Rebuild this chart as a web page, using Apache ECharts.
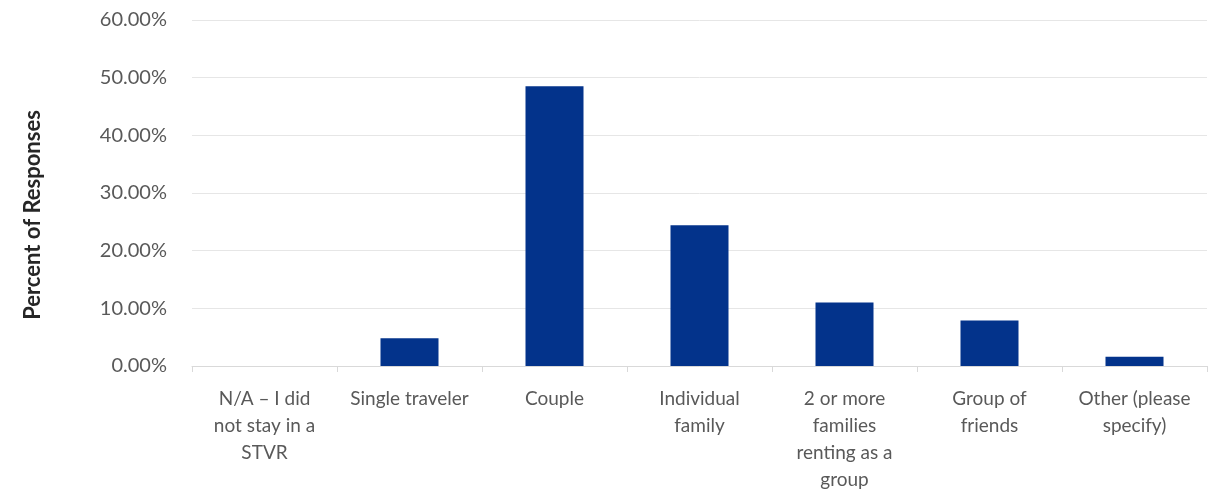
<!DOCTYPE html>
<html><head><meta charset="utf-8">
<script src="https://cdn.jsdelivr.net/npm/echarts@6/dist/echarts.min.js"></script>
<style>html,body{margin:0;padding:0;background:#fff}#c{width:1223px;height:494px}</style>
</head><body><div id="c"></div>
<script>
const categories = ["N/A \u2013 I did\nnot stay in a\nSTVR", "Single traveler", "Couple", "Individual\nfamily", "2 or more\nfamilies\nrenting as a\ngroup", "Group of\nfriends", "Other (please\nspecify)"];
const values = [0, 4.8, 48.5, 24.4, 11.0, 7.9, 1.6];
const yTicks = { min: 0, max: 60, interval: 10 };
const yTitle = "Percent of Responses";

const chart = echarts.init(document.getElementById('c'), null, { renderer: 'canvas' });
chart.setOption({
  animation: false,
  grid: { left: 192, right: 16, top: 20, bottom: 128 },
  xAxis: {
    type: 'category', data: categories,
    axisLine: { lineStyle: { color: '#d9d9d9' } },
    axisTick: { show: true, length: 6, lineStyle: { color: '#d9d9d9' } },
    axisLabel: { interval: 0, color: '#595959', fontFamily: 'Lato', fontSize: 19, lineHeight: 27, margin: 19 }
  },
  yAxis: {
    type: 'value', min: yTicks.min, max: yTicks.max, interval: yTicks.interval,
    name: yTitle, nameLocation: 'middle', nameGap: 148,
    nameTextStyle: { color: '#262626', fontFamily: 'Lato', fontSize: 22, fontWeight: 'bold', padding: [0, 44, 0, 0] },
    axisLine: { show: false }, axisTick: { show: false },
    splitLine: { lineStyle: { color: '#e6e6e6' } },
    axisLabel: { color: '#595959', fontFamily: 'Lato', fontSize: 20, margin: 25, formatter: v => v.toFixed(2) + '%' }
  },
  series: [{
    type: 'bar', data: values, barWidth: '40%',
    itemStyle: { color: '#03338b' }
  }]
});
</script></body></html>
